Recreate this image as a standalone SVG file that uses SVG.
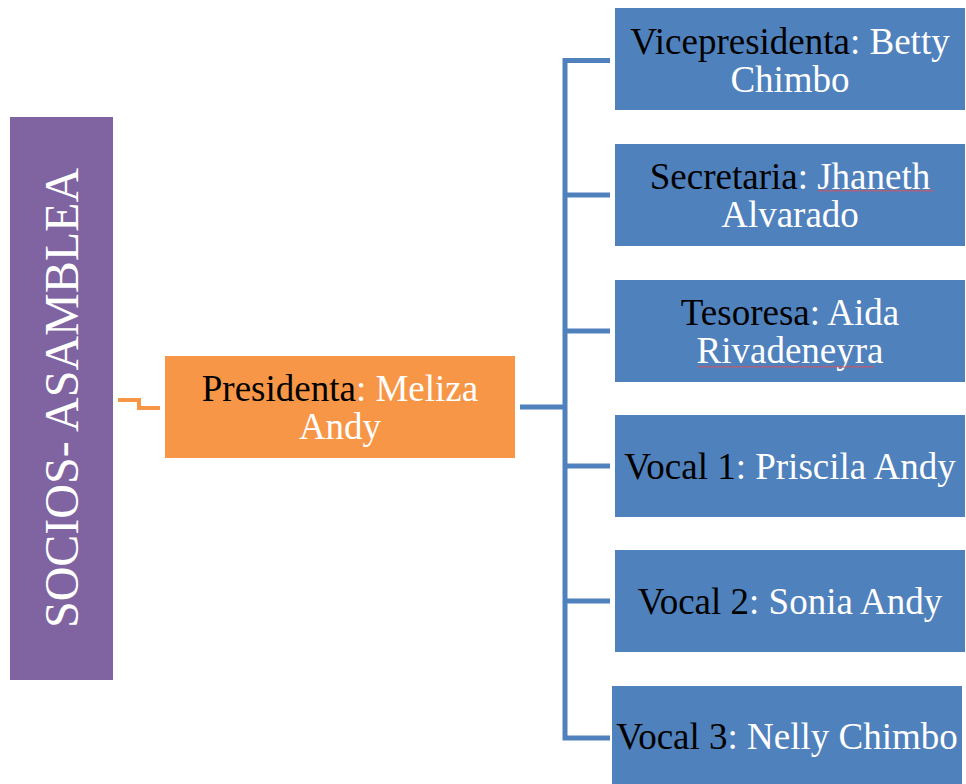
<svg xmlns="http://www.w3.org/2000/svg" width="966" height="784" viewBox="0 0 966 784">
<style>
.t{font-family:"Liberation Serif","Times New Roman",serif;font-size:37px;text-anchor:middle;fill:#000}
.w{fill:#fff}
.blue{fill:#4F81BD}
.sp{fill:none;stroke:#E0505A;stroke-width:1}
</style>
<rect width="966" height="784" fill="#fff"/>
<g id="connectors" fill="none" stroke-linejoin="miter">
  <polyline points="118,400 139,400 139,408 160,408" stroke="#F79646" stroke-width="4"/>
  <g stroke="#4F81BD" stroke-width="5">
    <line x1="520" y1="407" x2="565" y2="407"/>
    <polyline points="610,60.5 565,60.5 565,738 610,738"/>
    <line x1="565" y1="195" x2="610" y2="195"/>
    <line x1="565" y1="331" x2="610" y2="331"/>
    <line x1="565" y1="466" x2="610" y2="466"/>
    <line x1="565" y1="601" x2="610" y2="601"/>
  </g>
</g>
<g id="socios">
  <rect x="10" y="117" width="103" height="563" fill="#8064A2"/>
  <text class="t w" transform="translate(78,398) rotate(-90)" style="font-size:48px">SOCIOS- ASAMBLEA</text>
</g>
<g id="presidenta">
  <rect x="165" y="356" width="350" height="102" fill="#F79646"/>
  <text class="t" x="340" y="401">Presidenta<tspan class="w">: Meliza</tspan></text>
  <text class="t w" x="340" y="439">Andy</text>
</g>
<g id="vicepresidenta">
  <rect class="blue" x="615" y="8" width="350" height="102"/>
  <text class="t" x="790" y="54">Vicepresidenta<tspan class="w">: Betty</tspan></text>
  <text class="t w" x="790" y="92">Chimbo</text>
</g>
<g id="secretaria">
  <rect class="blue" x="615" y="144" width="350" height="102"/>
  <text class="t" x="790" y="189">Secretaria<tspan class="w">: Jhaneth</tspan></text>
  <text class="t w" x="790" y="227">Alvarado</text>
  <path class="sp" d="M818,190 l2,1.5 l2,-1.5 l2,1.5 l2,-1.5 l2,1.5 l2,-1.5 l2,1.5 l2,-1.5 l2,1.5 l2,-1.5 l2,1.5 l2,-1.5 l2,1.5 l2,-1.5 l2,1.5 l2,-1.5 l2,1.5 l2,-1.5 l2,1.5 l2,-1.5 l2,1.5 l2,-1.5 l2,1.5 l2,-1.5 l2,1.5 l2,-1.5 l2,1.5 l2,-1.5 l2,1.5 l2,-1.5 l2,1.5 l2,-1.5 l2,1.5 l2,-1.5 l2,1.5 l2,-1.5 l2,1.5 l2,-1.5 l2,1.5 l2,-1.5 l2,1.5 l2,-1.5 l2,1.5 l2,-1.5 l2,1.5 l2,-1.5 l2,1.5 l2,-1.5 l2,1.5 l2,-1.5 l2,1.5 l2,-1.5 l2,1.5 l2,-1.5 l2,1.5 l2,-1.5 l2,1.5 l2,-1.5"/>
</g>
<g id="tesoresa">
  <rect class="blue" x="615" y="280" width="350" height="102"/>
  <text class="t" x="790" y="325">Tesoresa<tspan class="w">: Aida</tspan></text>
  <text class="t w" x="790" y="363">Rivadeneyra</text>
  <path class="sp" d="M698,366 l2,1.5 l2,-1.5 l2,1.5 l2,-1.5 l2,1.5 l2,-1.5 l2,1.5 l2,-1.5 l2,1.5 l2,-1.5 l2,1.5 l2,-1.5 l2,1.5 l2,-1.5 l2,1.5 l2,-1.5 l2,1.5 l2,-1.5 l2,1.5 l2,-1.5 l2,1.5 l2,-1.5 l2,1.5 l2,-1.5 l2,1.5 l2,-1.5 l2,1.5 l2,-1.5 l2,1.5 l2,-1.5 l2,1.5 l2,-1.5 l2,1.5 l2,-1.5 l2,1.5 l2,-1.5 l2,1.5 l2,-1.5 l2,1.5 l2,-1.5 l2,1.5 l2,-1.5 l2,1.5 l2,-1.5 l2,1.5 l2,-1.5 l2,1.5 l2,-1.5 l2,1.5 l2,-1.5 l2,1.5 l2,-1.5 l2,1.5 l2,-1.5 l2,1.5 l2,-1.5 l2,1.5 l2,-1.5 l2,1.5 l2,-1.5 l2,1.5 l2,-1.5 l2,1.5 l2,-1.5 l2,1.5 l2,-1.5 l2,1.5 l2,-1.5 l2,1.5 l2,-1.5 l2,1.5 l2,-1.5 l2,1.5 l2,-1.5 l2,1.5 l2,-1.5 l2,1.5 l2,-1.5 l2,1.5 l2,-1.5 l2,1.5 l2,-1.5 l2,1.5 l2,-1.5 l2,1.5 l2,-1.5 l2,1.5 l2,-1.5"/>
</g>
<g id="vocal1">
  <rect class="blue" x="615" y="415" width="350" height="102"/>
  <text class="t" x="790" y="479">Vocal 1<tspan class="w">: Priscila Andy</tspan></text>
</g>
<g id="vocal2">
  <rect class="blue" x="615" y="550" width="350" height="102"/>
  <text class="t" x="790" y="614">Vocal 2<tspan class="w">: Sonia Andy</tspan></text>
</g>
<g id="vocal3">
  <rect class="blue" x="612" y="686" width="350" height="102"/>
  <text class="t" x="787" y="749">Vocal 3<tspan class="w">: Nelly Chimbo</tspan></text>
</g>
</svg>
